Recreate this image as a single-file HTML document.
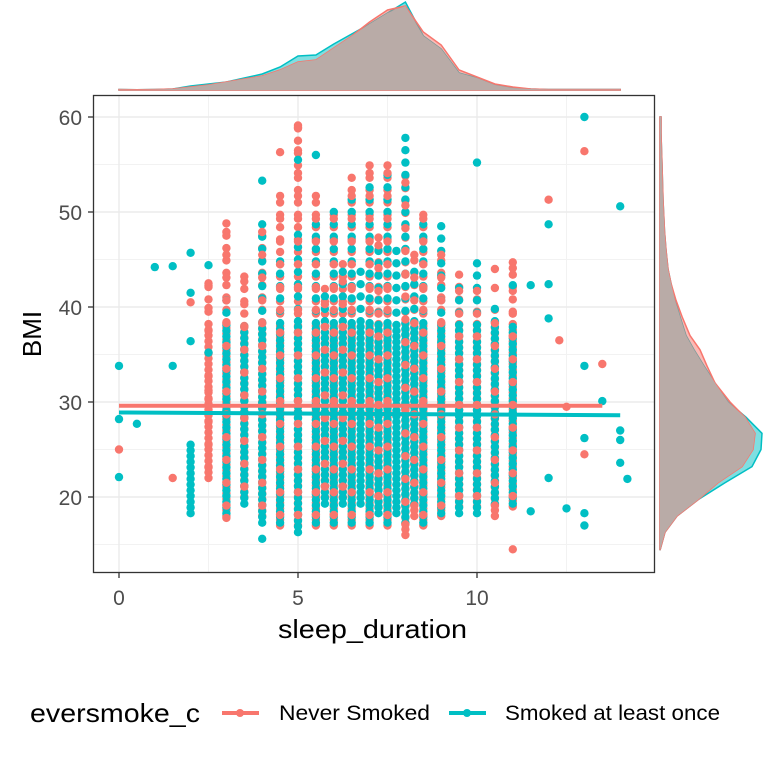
<!DOCTYPE html>
<html><head><meta charset="utf-8"><style>
html,body{margin:0;padding:0;background:#fff;}
svg text{font-family:"Liberation Sans",Arial,sans-serif;}
</style></head><body>
<svg id="chart" width="768" height="768" viewBox="0 0 768 768" xmlns="http://www.w3.org/2000/svg">
<rect x="0" y="0" width="768" height="768" fill="#fff"/>
<g id="grid"></g>
<g id="points"></g>
<g id="lines"></g>
<rect x="93.5" y="95.5" width="561" height="477" fill="none" stroke="#333" stroke-width="1.3"/>
<g id="axes"></g>
<g id="topdens"></g>
<g id="rightdens"></g>
<text x="278" y="638" font-size="26" textLength="189" lengthAdjust="spacingAndGlyphs" fill="#000">sleep_duration</text>
<text transform="translate(41,334) rotate(-90)" font-size="26" text-anchor="middle" fill="#000">BMI</text>
<g>
<text x="30" y="722" font-size="26" textLength="170" lengthAdjust="spacingAndGlyphs" fill="#000">eversmoke_c</text>
<g>
<line x1="222" y1="713" x2="259" y2="713" stroke="#F8766D" stroke-width="4"/>
<circle cx="240" cy="713" r="4" fill="#F8766D"/>
<text x="279" y="720" font-size="21" textLength="151" lengthAdjust="spacingAndGlyphs" fill="#000">Never Smoked</text>
</g>
<g>
<line x1="449" y1="713" x2="486" y2="713" stroke="#00BFC4" stroke-width="4"/>
<circle cx="467" cy="713" r="4" fill="#00BFC4"/>
<text x="505" y="720" font-size="21" textLength="215" lengthAdjust="spacingAndGlyphs" fill="#000">Smoked at least once</text>
</g>
</g>
</svg>
<script>
// ---- data ----
const xTicks = [0, 5, 10];
const yTicks = [20, 30, 40, 50, 60];
const redColX   = [2.5,3,3.5,4,4.5,5,5.5,6,6.5,7,7.5,8,8.5,9,9.5,10,10.5,11,6.25,7.25,8.25,5.75];
const redColMin = [22,18,20,18,17,17,17,17,17,17,17,16,17,18,19,19,18,19,20,19,18,20];
const redColMax = [43,50,44,48,52,59,52,50,54,56,55,55,50,46,44,42,40,46,45,48,46,42];
const cyanColX   = [2,3,3.5,4,4.5,5,5.5,6,6.5,7,7.5,8,8.5,9,9.5,10,10.5,11,6.25,7.25,8.25,5.75,6.75,7.75];
const cyanColMin = [18,18,19,17,17,16,17,17,17,17,17,17,17,18,18,18,19,19,19,18,19,19,19,18];
const cyanColMax = [26,42,38,49,45,48,50,51,52,53,55,58,50,49,43,45,40,38,44,46,45,42,45,47];
const redOutX = [0,1.5,2,2.5,4.5,5,13,12,12.3,13.5,13,11,10.5,10.5,12.5,3,2.5];
const redOutY = [25,22,40.5,31.2,56.3,59.1,56.4,51.3,36.5,34,24.5,14.5,42,44,29.5,17.8,42.5];
const cyanOutX = [0,0,0,0.5,1,1.5,2,2,2.5,2,2.5,1.5,4,5,5.5,10,12,13,14,12,12,13,13,13,13,14,14,14,14.2,13.5,11.5,12,11,4,12.5,11.5];
const cyanOutY = [33.8,28.2,22.1,27.7,44.2,44.3,45.7,41.5,44.4,36.4,35.2,33.8,53.3,55.5,56,55.2,48.7,60,50.6,38.8,22,33.8,26.2,18.3,17,27,26,23.6,21.9,30.1,42.3,42.4,42.3,15.6,18.8,18.5];
const redFit = [29.6, 29.6];
const redFitX = [0, 13.5];
const cyanFit = [28.9, 28.6];
const cyanFitX = [0, 14];
// top marginal densities (sleep 0..14 step 0.5)
const topDensX = [0,0.5,1,1.5,2,2.5,3,3.5,4,4.5,5,5.5,6,6.5,7,7.5,8,8.5,9,9.5,10,10.5,11,11.5,12,12.5,13,13.5,14];
const topDensRed  = [0.5,0.3,0.5,1,3,5,8,11,14,20,28,30,42,54,68,80,84,58,45,20,13,6,3,1,0.5,0.5,0.5,0.5,0.5];
const topDensCyan = [0.5,0.3,0.5,1,4,6,8,12,16,23,34,35,46,56,66,77,88,54,41,17,12,5,2,1,0.5,0.5,0.5,0.5,0.5];
// right marginal densities (BMI)
const rightDensY = [14.4,16.3,18,19.7,21.5,23.2,25,26.7,28.4,30,32,33.8,35.5,37,39,40.7,42.5,44,46,48,51.3,55,58.3,60];
const rightDensRed  = [0,5,17,38,58,82,93,95,85,70,55,47,40,30,22,16,11,8,6,4.5,3,2,1,1];
const rightDensCyan = [0,5,17,38,65,92,101,102,86,68,55,44,34,26,20,15,11,8,6,4.5,3,2,1,1];

// ---- scales ----
const X0 = 119, XS = 35.8;
const Y60 = 117, YS = 9.5;
const sx = v => X0 + v * XS;
const sy = v => Y60 + (60 - v) * YS;
const NS = 'http://www.w3.org/2000/svg';
function mk(tag, attrs, parent) {
  const e = document.createElementNS(NS, tag);
  for (const k in attrs) e.setAttribute(k, attrs[k]);
  parent.appendChild(e);
  return e;
}
const RED = '#F8766D', CYAN = '#00BFC4';

// grid
const grid = document.getElementById('grid');
[2.5, 7.5, 12.5].forEach(v => {
  const l = mk('line', {x1: sx(v), x2: sx(v), y1: 96, y2: 572, stroke: '#f2f2f2', 'stroke-width': 1}, grid);
  
  
});
[15, 25, 35, 45, 55].forEach(v => {
  const l = mk('line', {x1: 94, x2: 654, y1: sy(v), y2: sy(v), stroke: '#f2f2f2', 'stroke-width': 1}, grid);
  
  
});
xTicks.forEach(v => {
  const l = mk('line', {x1: sx(v), x2: sx(v), y1: 96, y2: 572, stroke: '#ebebeb', 'stroke-width': 1.4}, grid);
  
  
});
yTicks.forEach(v => {
  const l = mk('line', {x1: 94, x2: 654, y1: sy(v), y2: sy(v), stroke: '#ebebeb', 'stroke-width': 1.4}, grid);
  
  
});

// axes
const axes = document.getElementById('axes');
xTicks.forEach(v => {
  const t = mk('line', {x1: sx(v), x2: sx(v), y1: 573, y2: 578, stroke: '#333', 'stroke-width': 1.3}, axes);
  
  
  const tx = mk('text', {x: sx(v), y: 605, 'font-size': 21, 'text-anchor': 'middle', fill: '#4d4d4d'}, axes);
  tx.textContent = v;
  
  
});
yTicks.forEach(v => {
  const t = mk('line', {x1: 88, x2: 93, y1: sy(v), y2: sy(v), stroke: '#333', 'stroke-width': 1.3}, axes);
  
  
  const tx = mk('text', {x: 82, y: sy(v) + 8, 'font-size': 21, 'text-anchor': 'end', fill: '#4d4d4d'}, axes);
  tx.textContent = v;
  
  
});

// points
const pts = document.getElementById('points');
function dot(x, y, c) {
  const d = mk('circle', {cx: sx(x).toFixed(1), cy: sy(y).toFixed(1), r: 4.2, fill: c}, pts);
  
  
}
function column(x, lo, hi, c, phase) {
  for (let b = lo + phase; b <= hi; b += (b < 38 ? 0.6 : 1.3)) dot(x, b, c);
}
redColX.forEach((x, i) => column(x, redColMin[i], redColMax[i], RED, 0));
cyanColX.forEach((x, i) => column(x, cyanColMin[i], cyanColMax[i], CYAN, 0.3));
// red on top for mixing
redColX.forEach((x, i) => {
  for (let b = redColMin[i] + 1.1; b <= redColMax[i]; b += 2.4) dot(x, b, RED);
});
redOutX.forEach((x, i) => dot(x, redOutY[i], RED));
cyanOutX.forEach((x, i) => dot(x, cyanOutY[i], CYAN));

// regression lines
const lines = document.getElementById('lines');
const rl = mk('line', {x1: sx(redFitX[0]), x2: sx(redFitX[1]), y1: sy(redFit[0]), y2: sy(redFit[1]), stroke: RED, 'stroke-width': 4}, lines);


const cl = mk('line', {x1: sx(cyanFitX[0]), x2: sx(cyanFitX[1]), y1: sy(cyanFit[0]), y2: sy(cyanFit[1]), stroke: CYAN, 'stroke-width': 4}, lines);



// top marginal density (shares main x scale)
const TBASE = 90;
const ty = d => TBASE - d;
function topPath(arr) {
  let p = 'M' + sx(topDensX[0]) + ',' + TBASE;
  arr.forEach((d, i) => { p += ' L' + sx(topDensX[i]).toFixed(1) + ',' + ty(d).toFixed(1); });
  return p + ' L' + sx(topDensX[topDensX.length - 1]) + ',' + TBASE + ' Z';
}
const topG = document.getElementById('topdens');
const tMin = topDensRed.map((d, i) => Math.min(d, topDensCyan[i]));
let e;
e = mk('path', {d: topPath(topDensCyan), fill: 'rgba(0,191,196,0.5)', stroke: CYAN, 'stroke-width': 1.5}, topG);


e = mk('path', {d: topPath(topDensRed), fill: 'rgba(248,118,109,0.5)', stroke: RED, 'stroke-width': 1.5}, topG);


e = mk('path', {d: topPath(tMin), fill: '#b9aba7', stroke: 'none'}, topG);



// right marginal density
const RBASE = 660;
function rightPath(arr) {
  let p = 'M' + RBASE + ',' + sy(rightDensY[0]);
  arr.forEach((d, i) => { p += ' L' + (RBASE + d).toFixed(1) + ',' + sy(rightDensY[i]).toFixed(1); });
  return p + ' L' + RBASE + ',' + sy(rightDensY[rightDensY.length - 1]) + ' Z';
}
const rG = document.getElementById('rightdens');
const rMin = rightDensRed.map((d, i) => Math.min(d, rightDensCyan[i]));
e = mk('path', {d: rightPath(rightDensCyan), fill: 'rgba(0,191,196,0.5)', stroke: CYAN, 'stroke-width': 1.5}, rG);


e = mk('path', {d: rightPath(rightDensRed), fill: 'rgba(248,118,109,0.5)', stroke: RED, 'stroke-width': 1.5}, rG);


e = mk('path', {d: rightPath(rMin), fill: '#b9aba7', stroke: 'none'}, rG);


</script>
</body></html>
